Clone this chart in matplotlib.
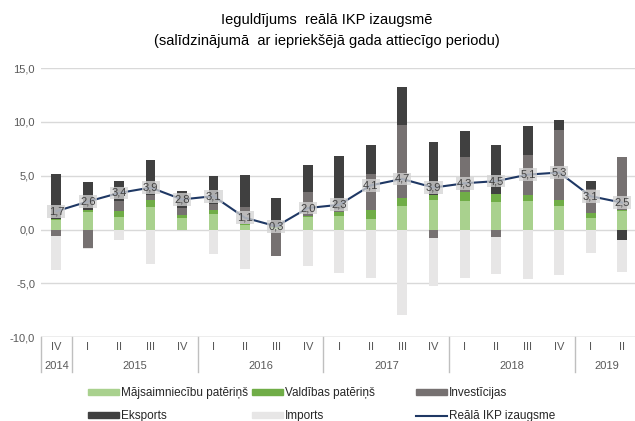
import numpy as np
import matplotlib
matplotlib.use('Agg')
import matplotlib.pyplot as plt
from matplotlib.patches import Patch
from matplotlib.lines import Line2D

plt.rcParams['font.family'] = ['Liberation Sans Narrow', 'Liberation Sans', 'DejaVu Sans']

# dati
quarters = ['IV', 'I', 'II', 'III', 'IV', 'I', 'II', 'III', 'IV', 'I', 'II', 'III', 'IV',
            'I', 'II', 'III', 'IV', 'I', 'II']
years = ['2014', '2015', '2016', '2017', '2018', '2019']
year_counts = [1, 4, 4, 4, 4, 2]

household = [0.86, 1.64, 1.17, 2.10, 1.08, 1.42, 0.40, 0.15, 1.17, 1.23, 1.02, 2.19, 2.78,
             2.65, 2.56, 2.62, 2.16, 1.11, 1.77]
government = [0.16, 0.15, 0.52, 0.68, 0.25, 0.43, 0.08, 0.05, 0.13, 0.40, 0.77, 0.74, 0.40,
              0.84, 0.70, 0.62, 0.62, 0.43, 0.05]
investment = [-0.56, -1.67, 0.96, 0.40, 0.70, 0.56, 1.60, -2.47, 2.22, 0.30, 3.40, 6.82, -0.77,
              3.24, -0.65, 3.64, 6.48, 2.26, 4.88]
exports = [4.17, 2.62, 1.83, 3.30, 1.55, 2.53, 2.95, 2.76, 2.47, 4.88, 2.68, 3.52, 4.91,
           2.41, 4.63, 2.69, 0.93, 0.68, -0.97]
imports = [-3.21, -0.10, -0.99, -3.15, 0.0, -2.28, -3.70, 0.0, -3.40, -4.07, -4.54, -7.93, -4.44,
           -4.54, -3.49, -4.60, -4.23, -2.13, -2.95]
gdp = [1.7, 2.6, 3.4, 3.9, 2.8, 3.1, 1.1, 0.3, 2.0, 2.3, 4.1, 4.7, 3.9, 4.3, 4.5, 5.1, 5.3, 3.1, 2.5]

series = [
    ('Mājsaimniecību patēriņš', household, '#a9d18e'),
    ('Valdības patēriņš', government, '#70ad47'),
    ('Investīcijas', investment, '#767171'),
    ('Eksports', exports, '#404040'),
    ('Imports', imports, '#e7e6e6'),
]
line_color = '#1f3864'
text_color = '#595959'

fig = plt.figure(figsize=(6.35, 4.21), dpi=100)
ax = fig.add_axes([40.6 / 635, 1 - 337.3 / 421, 597.2 / 635, (337.3 - 68) / 421])

x = np.arange(len(quarters))
pos_bottom = np.zeros(len(x))
neg_bottom = np.zeros(len(x))
for name, vals, color in series:
    vals = np.array(vals)
    bottom = np.where(vals >= 0, pos_bottom, neg_bottom)
    ax.bar(x, vals, 0.31, bottom=bottom, color=color, zorder=2)
    pos_bottom += np.where(vals >= 0, vals, 0)
    neg_bottom += np.where(vals < 0, vals, 0)

ax.plot(x, gdp, color=line_color, lw=1.5, zorder=3)
for xi, g in zip(x, gdp):
    ax.text(xi, g, f'{g:.1f}'.replace('.', ','), ha='center', va='center', fontsize=8,
            color='#404040', zorder=4,
            bbox=dict(boxstyle='square,pad=0.12', fc='#d4d4d4', ec='none', alpha=0.75))

ax.set_xlim(-0.5, len(x) - 0.5)
ax.set_ylim(-10, 15)
ax.set_yticks([-10, -5, 0, 5, 10, 15])
ax.set_yticklabels(['-10,0', '-5,0', '0,0', '5,0', '10,0', '15,0'], fontsize=8, color=text_color)
ax.tick_params(axis='y', length=0, pad=4)
ax.set_xticks([])
ax.grid(axis='y', color='#d9d9d9', lw=1, zorder=0)
for s in ax.spines.values():
    s.set_visible(False)
ax.axhline(-10, color='#bfbfbf', lw=1, zorder=1)

# kategoriju ass
xt = ax.get_xaxis_transform()
for xi, q in zip(x, quarters):
    ax.annotate(q, (xi, 0), xycoords=xt, xytext=(0, -7), textcoords='offset points',
                ha='center', va='center', fontsize=8, color=text_color)
start = 0
edges = [-0.5]
for y, n in zip(years, year_counts):
    mid = start + (n - 1) / 2
    ax.annotate(y, (mid, 0), xycoords=xt, xytext=(0, -20.5), textcoords='offset points',
                ha='center', va='center', fontsize=8, color=text_color)
    start += n
    edges.append(start - 0.5)
for e in edges:
    ax.plot([e, e], [0, -0.13], transform=xt, color='#bfbfbf', lw=1, clip_on=False)

fig.text(327 / 635, 1 - 20 / 421, 'Ieguldījums  reālā IKP izaugsmē', ha='center', va='center',
         fontsize=10.5, color='black')
fig.text(327 / 635, 1 - 41 / 421, '(salīdzinājumā  ar iepriekšējā gada attiecīgo periodu)',
         ha='center', va='center', fontsize=10.5, color='black')

# leģenda
handles = [Patch(color=c) for _, _, c in series]
handles.append(Line2D([], [], color=line_color, lw=1.5))
labels = [s[0] for s in series] + ['Reālā IKP izaugsme']
columns = [(0, 3), (1, 4), (2, 5)]
col_x = [88, 252, 416]
for (i, j), cx in zip(columns, col_x):
    leg = fig.legend([handles[i], handles[j]], [labels[i], labels[j]],
                     loc='upper left', bbox_to_anchor=(cx / 635, 1 - 387 / 421),
                     frameon=False, fontsize=8.5, handlelength=2.6, handleheight=0.45,
                     handletextpad=0.2, borderpad=0, borderaxespad=0, labelspacing=0.95,
                     labelcolor='#262626')

fig.savefig('out.png', dpi=100)
